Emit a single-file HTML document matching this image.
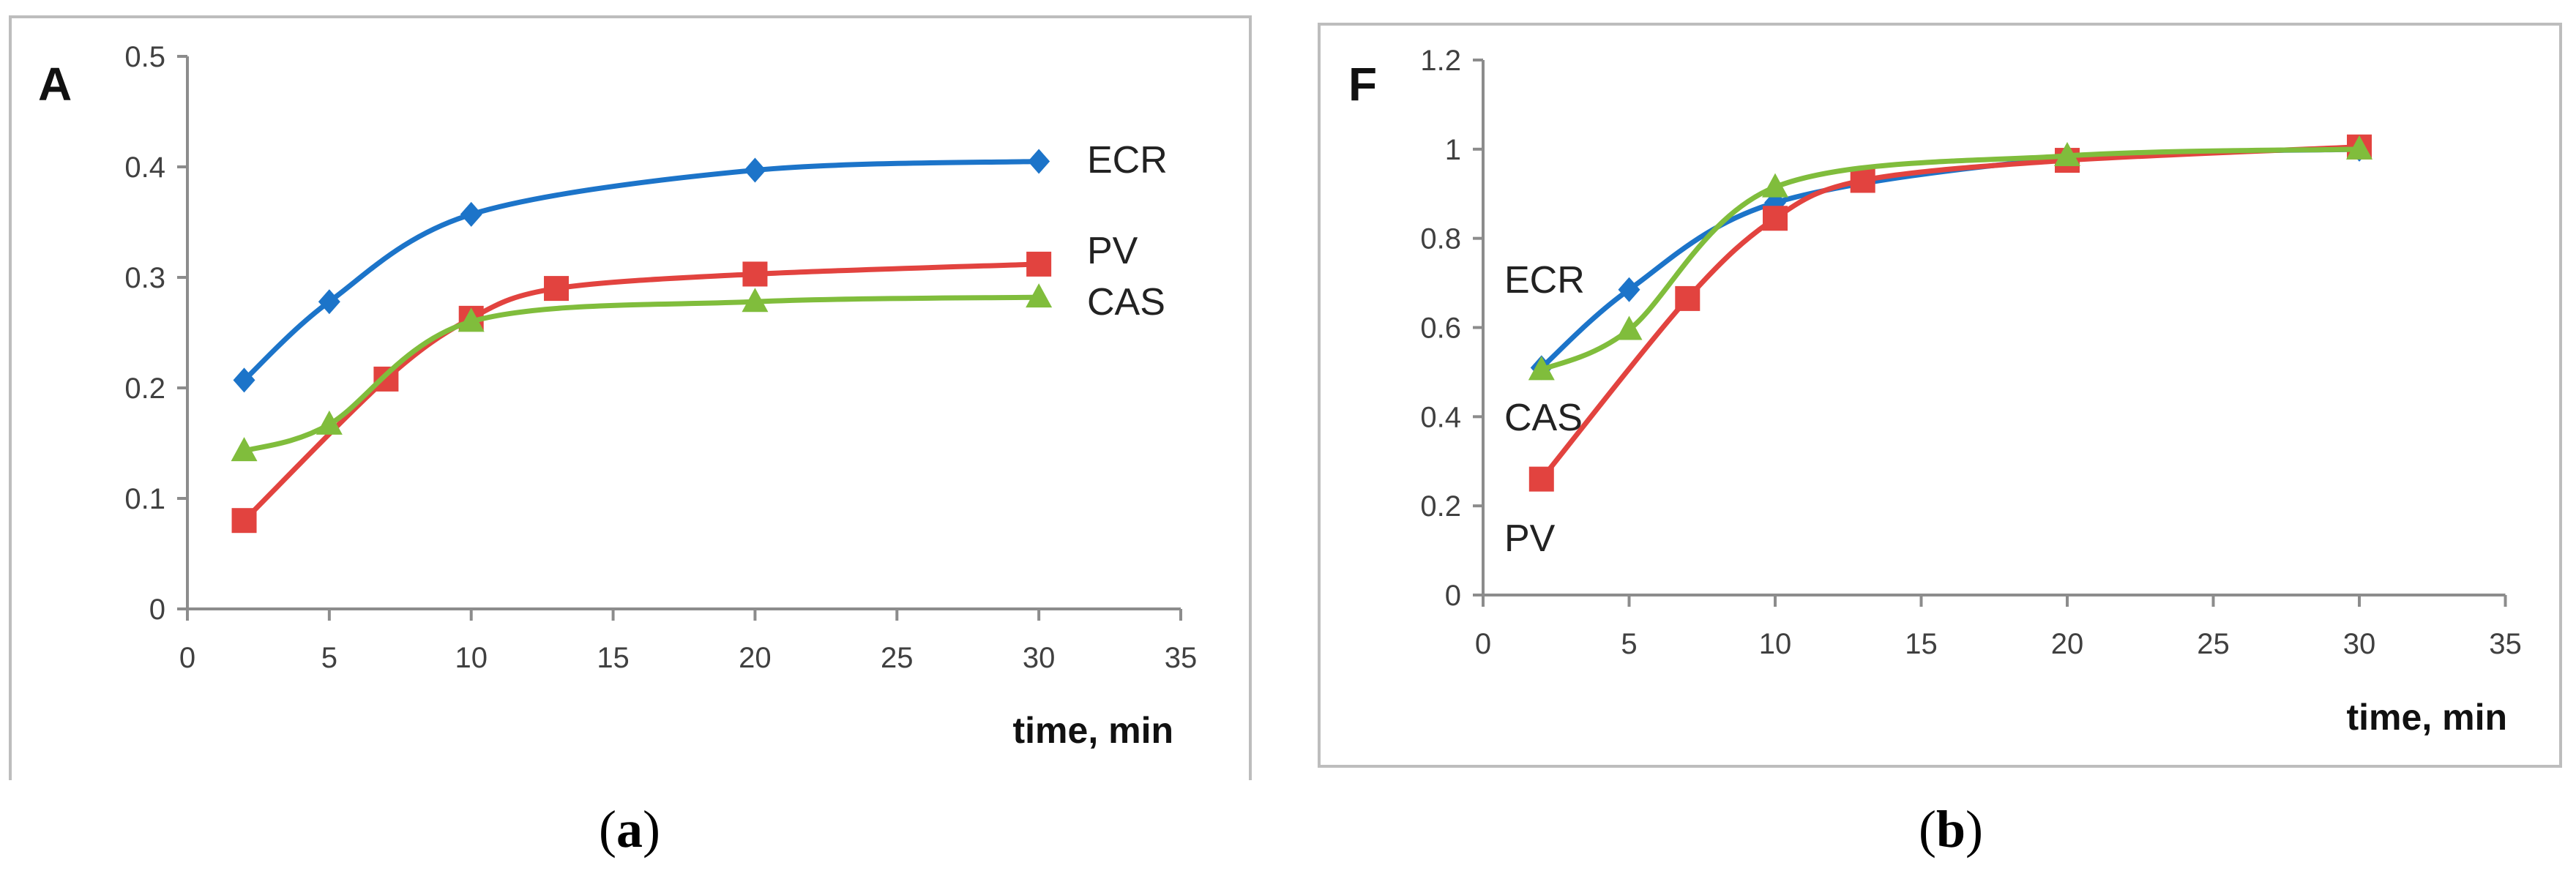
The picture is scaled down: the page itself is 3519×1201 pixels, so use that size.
<!DOCTYPE html>
<html><head><meta charset="utf-8"><style>
html,body{margin:0;padding:0;background:#fff;}
svg{display:block;}
text{font-family:"Liberation Sans",sans-serif;}
</style></head><body>
<svg id="fig" width="3519" height="1201" viewBox="0 0 3519 1201" xmlns="http://www.w3.org/2000/svg">
<rect x="0" y="0" width="3519" height="1201" fill="#fff"/>
<g id="pa"></g>
<g id="pb"></g>
<text x="860" y="1157" font-family="Liberation Serif" font-size="72" text-anchor="middle" style="font-family:'Liberation Serif',serif">(<tspan font-weight="bold">a</tspan>)</text>
<text x="2665" y="1157" font-family="Liberation Serif" font-size="72" text-anchor="middle" style="font-family:'Liberation Serif',serif">(<tspan font-weight="bold">b</tspan>)</text>
</svg>
<script>
// Panel A data
const aEcrX = [2,5,10,20,30];
const aEcrY = [0.207,0.278,0.357,0.397,0.405];
const aPvX = [2,7,10,13,20,30];
const aPvY = [0.080,0.208,0.263,0.290,0.303,0.312];
const aCasX = [2,5,10,20,30];
const aCasY = [0.143,0.167,0.260,0.278,0.282];
const aYTicks = ["0","0.1","0.2","0.3","0.4","0.5"];
const aYVals = [0,0.1,0.2,0.3,0.4,0.5];
// Panel B data
const bEcrX = [2,5,10,20,30];
const bEcrY = [0.510,0.685,0.880,0.980,1.000];
const bPvX = [2,7,10,13,20,30];
const bPvY = [0.260,0.665,0.845,0.930,0.975,1.005];
const bCasX = [2,5,10,20,30];
const bCasY = [0.505,0.595,0.915,0.985,1.000];
const bYTicks = ["0","0.2","0.4","0.6","0.8","1","1.2"];
const bYVals = [0,0.2,0.4,0.6,0.8,1.0,1.2];
const xTicks = ["0","5","10","15","20","25","30","35"];
const xVals = [0,5,10,15,20,25,30,35];

const NS="http://www.w3.org/2000/svg";
const BLUE="#1c74c9", RED="#e2433f", GREEN="#80bd3c";
function mk(parent,tag,attrs){const e=document.createElementNS(NS,tag);for(const k in attrs)e.setAttribute(k,attrs[k]);parent.appendChild(e);return e;}
function smooth(pts){
  let d="M"+pts[0][0]+","+pts[0][1];
  for(let i=0;i<pts.length-1;i++){
    const p0=pts[Math.max(0,i-1)],p1=pts[i],p2=pts[i+1],p3=pts[Math.min(pts.length-1,i+2)];
    const t=0.16*1.0;
    const c1=[p1[0]+(p2[0]-p0[0])*t*1.0,p1[1]+(p2[1]-p0[1])*t];
    const c2=[p2[0]-(p3[0]-p1[0])*t,p2[1]-(p3[1]-p1[1])*t];
    d+=" C"+c1[0]+","+c1[1]+" "+c2[0]+","+c2[1]+" "+p2[0]+","+p2[1];
  }
  return d;
}
function panel(g,cfg){
  // frame
  const f=mk(g,"path",{d:cfg.frame,fill:"none",stroke:"#bdbdbd","stroke-width":cfg.frameW});
  
  
  const sx=v=>cfg.x0+v*cfg.xs, sy=v=>cfg.y0-v*cfg.ys;
  const ax=mk(g,"path",{d:`M${sx(0)},${sy(cfg.ymax)} L${sx(0)},${sy(0)} L${sx(35)},${sy(0)}`,fill:"none",stroke:"#8c8c8c","stroke-width":4});
  
  
  cfg.yVals.forEach((v,i)=>{
    const t=mk(g,"line",{x1:sx(0)-14,x2:sx(0),y1:sy(v),y2:sy(v),stroke:"#8c8c8c","stroke-width":4});
    
    
    const l=mk(g,"text",{x:sx(0)-30,y:sy(v)+14,"font-size":40,"text-anchor":"end",fill:"#404040"});
    l.textContent=cfg.yTicks[i];
    
    
  });
  xVals.forEach((v,i)=>{
    const t=mk(g,"line",{x1:sx(v),x2:sx(v),y1:sy(0),y2:sy(0)+16,stroke:"#8c8c8c","stroke-width":4});
    
    
    const l=mk(g,"text",{x:sx(v),y:sy(0)+80,"font-size":40,"text-anchor":"middle",fill:"#404040"});
    l.textContent=xTicks[i];
    
    
  });
  const xt=mk(g,"text",{x:cfg.xtX,y:cfg.xtY,"font-size":50,"font-weight":"bold",fill:"#111","text-anchor":"end"});
  xt.textContent="time, min";
  
  
  const yt=mk(g,"text",{x:cfg.ytX,y:cfg.ytY,"font-size":64,"font-weight":"bold",fill:"#111"});
  yt.textContent=cfg.yTitle;
  
  
  cfg.series.forEach(s=>{
    const pts=s.x.map((xv,i)=>[sx(xv),sy(s.y[i])]);
    const p=mk(g,"path",{d:smooth(pts),fill:"none",stroke:s.c,"stroke-width":7,"stroke-linejoin":"round"});
    
    
    pts.forEach(([px,py])=>{
      let m;
      if(s.m==="d") m=mk(g,"polygon",{points:`${px},${py-17} ${px+15},${py} ${px},${py+17} ${px-15},${py}`,fill:s.c});
      else if(s.m==="s") m=mk(g,"rect",{x:px-17,y:py-17,width:34,height:34,fill:s.c});
      else m=mk(g,"polygon",{points:`${px},${py-19} ${px+18},${py+14} ${px-18},${py+14}`,fill:s.c});
      
      
    });
    const lb=mk(g,"text",{x:s.lx,y:s.ly,"font-size":52,fill:"#222"});
    lb.textContent=s.label;
    
    
  });
}
panel(document.getElementById("pa"),{
  frame:"M14,1066 L14,23 L1708,23 L1708,1066",frameW:4,
  x0:256,xs:(1613-256)/35,y0:832,ys:(832-77)/0.5,ymax:0.5,
  yVals:aYVals,yTicks:aYTicks,xtX:1603,xtY:1015,ytX:52,ytY:137,yTitle:"A",
  series:[
    {name:"ecr",x:aEcrX,y:aEcrY,c:BLUE,m:"d",label:"ECR",lx:1485,ly:236},
    {name:"pv",x:aPvX,y:aPvY,c:RED,m:"s",label:"PV",lx:1485,ly:360},
    {name:"cas",x:aCasX,y:aCasY,c:GREEN,m:"t",label:"CAS",lx:1485,ly:430}
  ]
});
panel(document.getElementById("pb"),{
  frame:"M1802,1047 L1802,33 L3498,33 L3498,1047 Z",frameW:4,
  x0:2026,xs:(3223-2026)/30,y0:813,ys:(813-82)/1.2,ymax:1.2,
  yVals:bYVals,yTicks:bYTicks,xtX:3425,xtY:997,ytX:1842,ytY:137,yTitle:"F",
  series:[
    {name:"ecr",x:bEcrX,y:bEcrY,c:BLUE,m:"d",label:"ECR",lx:2055,ly:400},
    {name:"pv",x:bPvX,y:bPvY,c:RED,m:"s",label:"PV",lx:2055,ly:753},
    {name:"cas",x:bCasX,y:bCasY,c:GREEN,m:"t",label:"CAS",lx:2055,ly:588}
  ]
});
</script>
</body></html>
